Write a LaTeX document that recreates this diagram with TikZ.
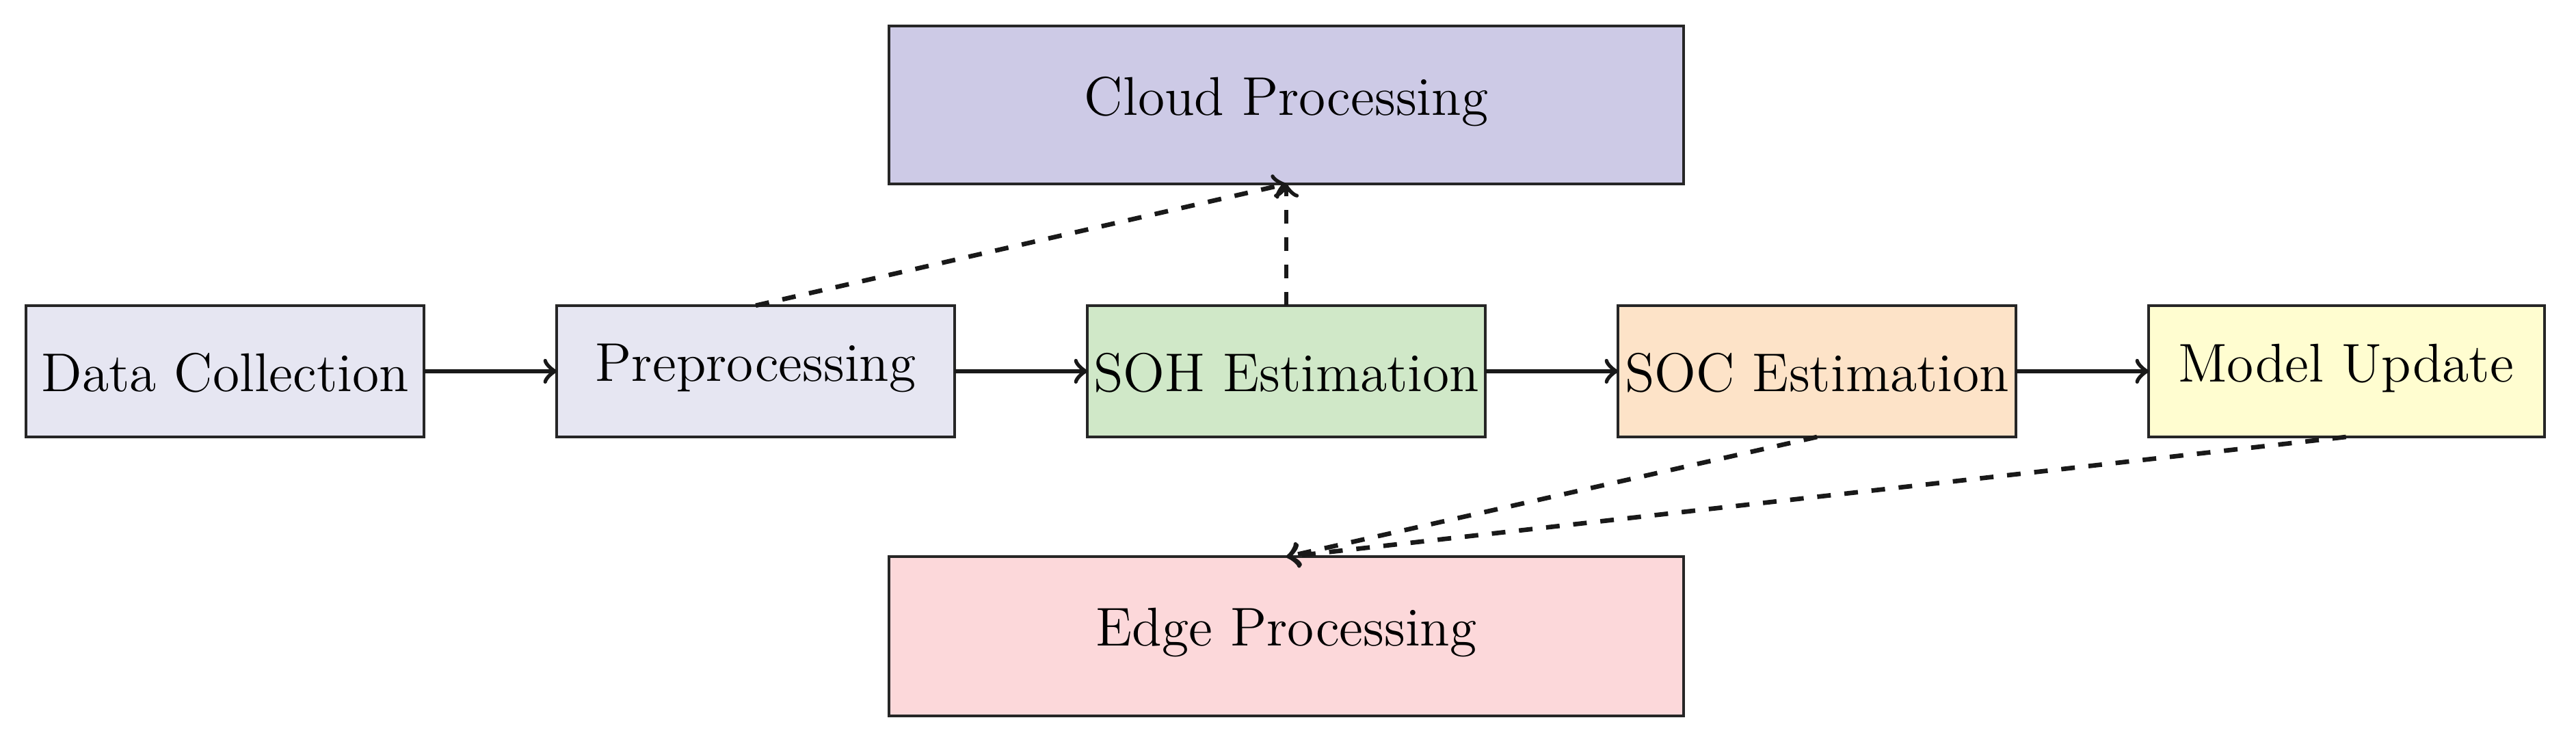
\documentclass[tikz,border=0pt]{standalone}
\begin{document}
\begin{tikzpicture}[x=0.0127cm,y=-0.0127cm,
  box/.style={draw=black!85,line width=0.6pt,font=\large},
  con/.style={->,line width=1pt,black!90},
  dcon/.style={con,dashed}]
\useasboundingbox (0,0) rectangle (1568,454);
\definecolor{lav}{HTML}{E6E6F2}\definecolor{cloud}{HTML}{CDCAE6}
\definecolor{soh}{HTML}{D0E8C8}\definecolor{soc}{HTML}{FDE3C8}
\definecolor{mu}{HTML}{FFFDD0}\definecolor{edge}{HTML}{FCD8DA}
\newcommand{\bx}[6]{\filldraw[box,fill=#6] (#2,#3) rectangle (#4,#5) node[pos=0.5] (#1) {};}
\filldraw[box,fill=lav] (16,186) rectangle (258,266); \node[font=\large] (dc) at (137,227) {Data Collection};
\filldraw[box,fill=lav] (339,186) rectangle (581,266); \node[font=\large] (pp) at (460,224) {Preprocessing};
\filldraw[box,fill=soh] (662,186) rectangle (904,266); \node[font=\large] (soh) at (783,227) {SOH Estimation};
\filldraw[box,fill=soc] (985,186) rectangle (1227,266); \node[font=\large] (soc) at (1106,227) {SOC Estimation};
\filldraw[box,fill=mu] (1308,186) rectangle (1549,266); \node[font=\large] (mu) at (1428,224) {Model Update};
\filldraw[box,fill=cloud] (541,16) rectangle (1025,112); \node[font=\large] (cl) at (783,62) {Cloud Processing};
\filldraw[box,fill=edge] (541,339) rectangle (1025,436); \node[font=\large] (ed) at (783,385) {Edge Processing};
\coordinate (dcE) at (258,226); \coordinate (ppW) at (339,226);
\coordinate (ppE) at (581,226); \coordinate (sohW) at (662,226);
\coordinate (sohE) at (904,226); \coordinate (socW) at (985,226);
\coordinate (socE) at (1227,226); \coordinate (muW) at (1308,226);
\coordinate (ppN) at (460,186); \coordinate (sohN) at (783,186); \coordinate (clS) at (783,112);
\coordinate (socS) at (1106,266); \coordinate (muS) at (1428,266); \coordinate (edN) at (783,339);
\draw[con] (dcE) -- (ppW); \draw[con] (ppE) -- (sohW);
\draw[con] (sohE) -- (socW); \draw[con] (socE) -- (muW);
\draw[dcon] (ppN) -- (clS); \draw[dcon] (sohN) -- (clS);
\draw[dcon] (socS) -- (edN); \draw[dcon] (muS) -- (edN);
\end{tikzpicture}
\end{document}
